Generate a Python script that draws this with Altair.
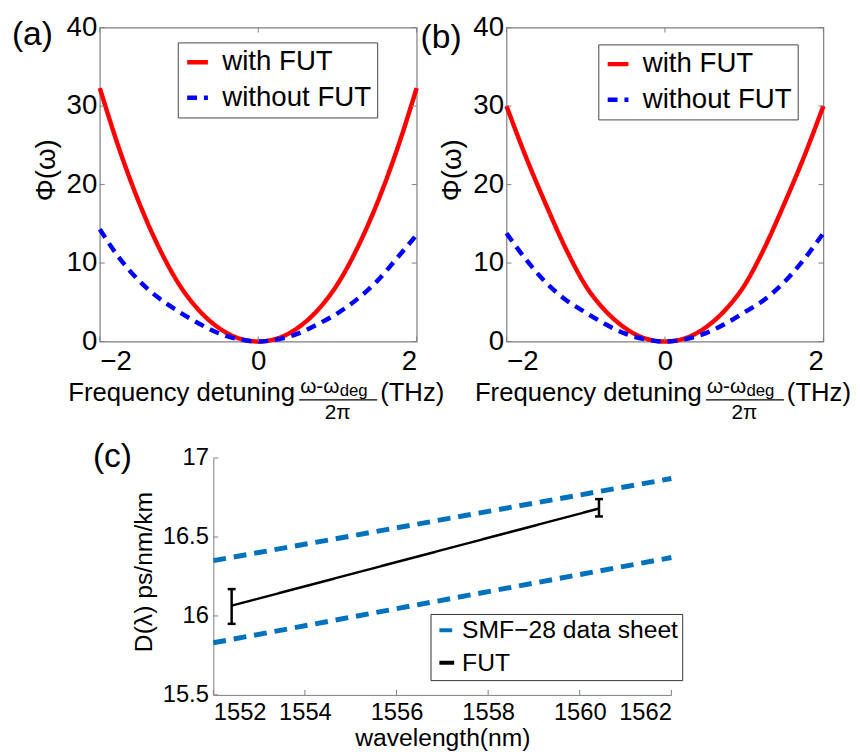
import altair as alt
import pandas as pd

FONT = "Liberation Sans"
GRAY = "#7f7f7f"

# ---------------- data: panels (a) and (b) ----------------
freq_thz = [-2, -1.75, -1.5, -1.25, -1, -0.75, -0.5, -0.25, 0,
            0.25, 0.5, 0.75, 1, 1.25, 1.5, 1.75, 2]
a_with_fut = [32.3, 24.4, 17.6, 11.9, 7.3, 4.0, 1.75, 0.42, 0,
              0.42, 1.75, 4.0, 7.3, 11.9, 17.6, 24.4, 32.3]
a_without_fut = [14.3, 10.6, 7.7, 5.5, 3.8, 2.3, 1.05, 0.3, 0,
                 0.28, 1.0, 2.2, 3.6, 5.4, 7.7, 10.6, 13.6]
b_with_fut = [30.0, 23.4, 17.4, 11.8, 7.1, 3.9, 1.7, 0.4, 0,
              0.4, 1.7, 3.9, 7.1, 11.8, 17.4, 23.4, 30.0]
b_without_fut = [13.8, 10.4, 7.5, 5.3, 3.7, 2.2, 1.0, 0.28, 0,
                 0.28, 1.0, 2.2, 3.7, 5.3, 7.5, 10.4, 13.8]
curve_names = ["with FUT", "without FUT"]
freq_ticks = [-2, 0, 2]
phi_ticks = [0, 10, 20, 30, 40]

# ---------------- data: panel (c) ----------------
trace_names = ["SMF\u221228 data sheet", "FUT"]
wl_sheet = [1552, 1562]
sheet_upper = [16.35, 16.87]
sheet_lower = [15.83, 16.37]
wl_fut = [1552.4, 1560.42]
d_fut = [16.065, 16.68]
d_fut_lo = [15.95, 16.63]
d_fut_hi = [16.17, 16.74]
wl_ticks = [1552, 1554, 1556, 1558, 1560, 1562]
d_ticks = [15.5, 16, 16.5, 17]

W1, H1 = 321, 318
W3, H3 = 464, 240
ONE = pd.DataFrame({"k": [0]})


def label(text, x, y, size, align="left", baseline="alphabetic"):
    return alt.Chart(ONE).mark_text(
        text=text, fontSize=size, align=align, baseline=baseline,
        font=FONT, color="black"
    ).encode(x=alt.value(x), y=alt.value(y))


def top_panel(tag, with_vals, without_vals, lx, ly, tagx, tagy, ytx):
    n = len(freq_thz)
    df = pd.DataFrame({
        "x": freq_thz + freq_thz,
        "phi": with_vals + without_vals,
        "curve": [curve_names[0]] * n + [curve_names[1]] * n,
    })
    xenc = alt.X("x:Q", scale=alt.Scale(domain=[-2, 2], nice=False, zero=False),
                 axis=alt.Axis(values=freq_ticks, format="~g", title=None, ticks=False,
                               domain=False, grid=False, labelFontSize=28, labelPadding=6,
                               labelColor="black", labelOverlap=False, labelFont=FONT))
    yenc = alt.Y("phi:Q", scale=alt.Scale(domain=[0, 40], nice=False),
                 axis=alt.Axis(values=phi_ticks, title="\u03a6(\u03c9)", ticks=False,
                               domain=False, grid=False, labelFontSize=28, labelPadding=3,
                               labelColor="black", labelOverlap=False, labelFont=FONT,
                               titleFontSize=28, titleFontWeight="normal", titleColor="black",
                               titleFont=FONT, titleX=ytx, titleY=144, titleAngle=270,
                               titleAlign="center", titleBaseline="bottom"))
    leg = alt.Legend(orient="none", legendX=lx, legendY=ly, title=None, direction="vertical",
                     labelFontSize=28, labelFont=FONT, labelColor="black",
                     symbolType="stroke", symbolSize=441, symbolStrokeWidth=4.5,
                     labelOffset=11, rowPadding=8, padding=6, strokeColor="#444444",
                     fillColor="white", cornerRadius=0, labelLimit=400)
    lines = alt.Chart(df).mark_line(strokeWidth=4.5, interpolate="monotone").encode(
        x=xenc, y=yenc,
        color=alt.Color("curve:N", scale=alt.Scale(domain=curve_names,
                                                   range=["#ff0000", "#0000ff"]), legend=leg),
        strokeDash=alt.StrokeDash("curve:N", scale=alt.Scale(domain=curve_names,
                                                             range=[[1, 0], [10, 7]]), legend=leg),
    )
    xt = pd.DataFrame({"x": freq_ticks})
    yt = pd.DataFrame({"phi": phi_ticks})
    bt = alt.Chart(xt).mark_rule(color=GRAY).encode(x=xenc, y=alt.value(H1), y2=alt.value(H1 - 5))
    tt = alt.Chart(xt).mark_rule(color=GRAY).encode(x=xenc, y=alt.value(0), y2=alt.value(5))
    lt = alt.Chart(yt).mark_rule(color=GRAY).encode(y=yenc, x=alt.value(0), x2=alt.value(5))
    rt = alt.Chart(yt).mark_rule(color=GRAY).encode(y=yenc, x=alt.value(W1 - 5), x2=alt.value(W1))
    bar = alt.Chart(ONE).mark_rule(color="black", strokeWidth=1.3).encode(
        x=alt.value(202), x2=alt.value(281), y=alt.value(377))
    texts = [
        label(tag, tagx, tagy, 34),
        label("Frequency detuning", -32, 378, 26),
        label("\u03c9-\u03c9", 203, 370, 21),
        label("deg", 243, 373, 17),
        label("2\u03c0", 241, 396, 21, align="center"),
        label("(THz)", 284, 378, 26),
    ]
    return alt.layer(lines, bt, tt, lt, rt, bar, *texts).properties(
        width=W1, height=H1, view=alt.ViewBackground(stroke=GRAY, strokeWidth=1.2))


A = top_panel("(a)", a_with_fut, a_without_fut, 79, 15, -89, 18, -40)
B = top_panel("(b)", b_with_fut, b_without_fut, 93, 17, -87, 21, -41)

# ---------------- panel (c) ----------------
sheet = pd.DataFrame({
    "wl": wl_sheet + wl_sheet,
    "D": sheet_upper + sheet_lower,
    "trace": [trace_names[0]] * 4,
    "line": ["upper", "upper", "lower", "lower"],
})
fut = pd.DataFrame({"wl": wl_fut, "D": d_fut, "lo": d_fut_lo, "hi": d_fut_hi,
                    "trace": [trace_names[1]] * len(wl_fut)})

xsc = alt.Scale(domain=[1552, 1562], nice=False, zero=False)
ysc = alt.Scale(domain=[15.5, 17], nice=False, zero=False)
xax = alt.Axis(values=wl_ticks, format="d", title="wavelength(nm)", ticks=False,
               domainColor=GRAY, grid=False, labelFontSize=24, labelPadding=6,
               labelColor="black", labelOverlap=False, labelFont=FONT,
               titleFontSize=25, titleFontWeight="normal", titleColor="black",
               titleFont=FONT, titlePadding=1)
yax = alt.Axis(values=d_ticks, format="~g", title="D(\u03bb) ps/nm/km", ticks=False,
               domainColor=GRAY, grid=False, labelFontSize=24, labelPadding=5,
               labelColor="black", labelOverlap=False, labelFont=FONT,
               titleFontSize=25, titleFontWeight="normal", titleColor="black",
               titleFont=FONT, titleX=-58, titleY=115, titleAngle=270,
               titleAlign="center", titleBaseline="bottom")


def cx(field="wl"):
    return alt.X(f"{field}:Q", scale=xsc, axis=xax)


def cy(field="D"):
    return alt.Y(f"{field}:Q", scale=ysc, axis=yax)


legc = alt.Legend(orient="none", legendX=220, legendY=158, title=None, direction="vertical",
                  labelFontSize=25, labelFont=FONT, labelColor="black",
                  symbolType="stroke", symbolSize=225, symbolStrokeWidth=4,
                  labelOffset=3, rowPadding=7, padding=4, strokeColor="#333333",
                  fillColor="white", cornerRadius=0, labelLimit=400)
cenc = dict(
    color=alt.Color("trace:N", scale=alt.Scale(domain=trace_names,
                                               range=["#0072bd", "#000000"]), legend=legc),
    strokeDash=alt.StrokeDash("trace:N", scale=alt.Scale(domain=trace_names,
                                                         range=[[13, 8], [1, 0]]), legend=legc),
)
sheet_lines = alt.Chart(sheet).mark_line(strokeWidth=5).encode(
    x=cx(), y=cy(), detail="line:N", **cenc)
fut_line = alt.Chart(fut).mark_line(strokeWidth=2.5).encode(x=cx(), y=cy(), **cenc)
err = alt.Chart(fut).mark_rule(color="black", strokeWidth=2.5).encode(
    x=cx(), y=cy("lo"), y2="hi:Q")
cap_hi = alt.Chart(fut).mark_rule(color="black", strokeWidth=2.5, xOffset=-4, x2Offset=4).encode(
    x=cx(), x2="wl:Q", y=cy("hi"))
cap_lo = alt.Chart(fut).mark_rule(color="black", strokeWidth=2.5, xOffset=-4, x2Offset=4).encode(
    x=cx(), x2="wl:Q", y=cy("lo"))
cxt = pd.DataFrame({"wl": wl_ticks})
cyt = pd.DataFrame({"D": d_ticks})
cbt = alt.Chart(cxt).mark_rule(color=GRAY).encode(x=cx(), y=alt.value(H3), y2=alt.value(H3 - 5))
clt = alt.Chart(cyt).mark_rule(color=GRAY).encode(y=cy(), x=alt.value(0), x2=alt.value(5))

C = alt.layer(sheet_lines, fut_line, err, cap_hi, cap_lo, cbt, clt,
              label("(c)", -122, 9, 34)).properties(
    width=W3, height=H3, view=alt.ViewBackground(stroke="transparent"))

spacer = alt.Chart(ONE).mark_point(opacity=0).encode(
    x=alt.value(0), y=alt.value(0)).properties(
    width=100, height=H3, view=alt.ViewBackground(stroke="transparent"))

ind = dict(x="independent", y="independent", color="independent", strokeDash="independent")
top = alt.hconcat(A, B, spacing=91, bounds="flush").resolve_scale(**ind).resolve_legend(
    color="independent", strokeDash="independent")
bottom = alt.hconcat(spacer, C, spacing=15, bounds="flush").resolve_scale(**ind).resolve_legend(
    color="independent", strokeDash="independent")

chart = alt.vconcat(top, bottom, spacing=436, bounds="flush").resolve_scale(**ind).resolve_legend(
    color="independent", strokeDash="independent").properties(
    padding={"left": 3, "top": 0, "right": 0, "bottom": 0}
).configure(font=FONT).configure_view(stroke="transparent")

chart.save("out.html", embed_options={"renderer": "svg", "actions": False})
